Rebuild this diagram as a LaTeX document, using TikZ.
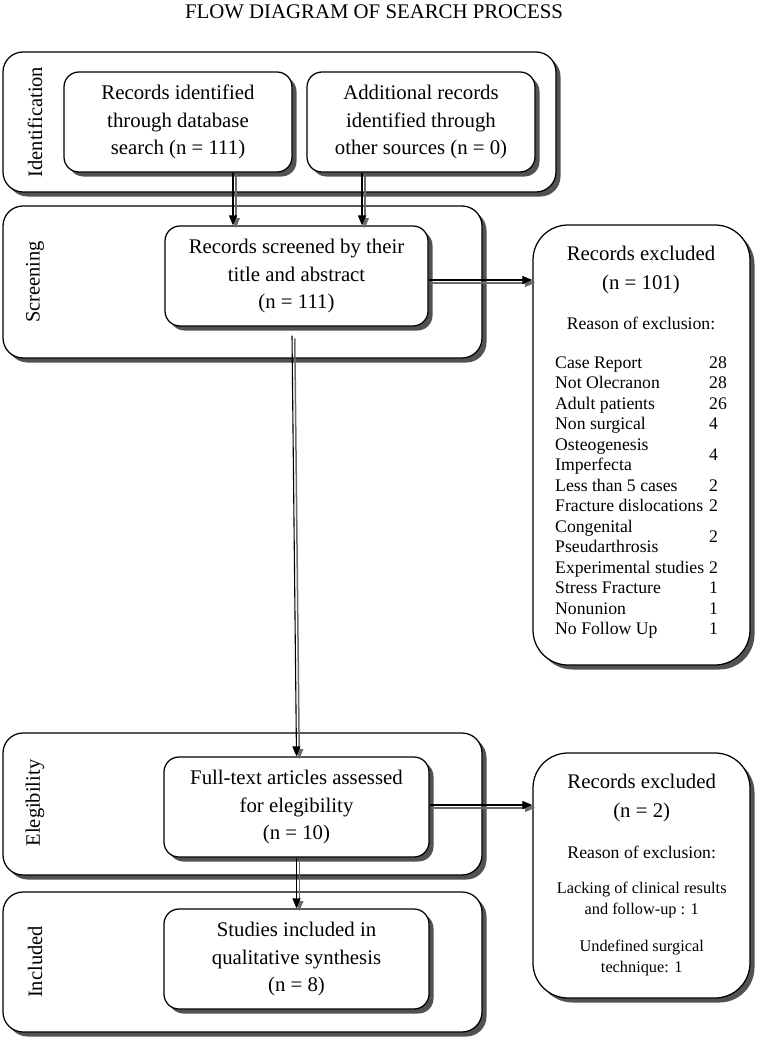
\documentclass[tikz,border=0pt]{standalone}
\usepackage{fontspec}
\setmainfont{Liberation Serif}
\usetikzlibrary{shadows,arrows.meta}
\begin{document}
\begin{tikzpicture}[x=1pt,y=-1pt,
  shd/.style={drop shadow={shadow xshift=4.5pt,shadow yshift=-4.5pt,fill=black!68,opacity=1}},
  lane/.style={draw, line width=1.25pt, rounded corners=20pt, fill=white, shd, inner sep=0pt},
  inbox/.style={draw, line width=1.25pt, rounded corners=15pt, fill=white, shd, inner sep=0pt, minimum height=100pt, big},
  exbox/.style={draw, line width=1.25pt, rounded corners=35pt, fill=white, shd, inner sep=0pt, minimum width=217pt},
  big/.style={font=\fontsize{20.8}{27.5}\selectfont, align=center},
  mid/.style={font=\fontsize{17.7}{20.5}\selectfont, align=center},
  sml/.style={font=\fontsize{16.3}{21}\selectfont, align=center},
  lanelabel/.style={rotate=90, font=\fontsize{20.5}{24}\selectfont},
  arrblk/.style={draw=black, line width=1.1pt, -{Triangle[length=10pt,width=8pt]}},
  arrshd/.style={draw=black!58, line width=1.5pt, -{Triangle[length=10pt,width=8pt]}, transform canvas={shift={(2.8pt,-2.8pt)}}}
]
\useasboundingbox (0,0) rectangle (756,1041);
\fill[white] (0,0) rectangle (756,1041);

\node[font=\fontsize{20.8}{24}\selectfont] (title) at (374,12) {FLOW DIAGRAM OF SEARCH PROCESS};

% lanes
\node[lane, minimum width=553pt, minimum height=140pt] (lid) at (279.5,122) {};
\node[lane, minimum width=479pt, minimum height=152pt] (lsc) at (242.5,282) {};
\node[lane, minimum width=479pt, minimum height=142pt] (lel) at (242.5,804) {};
\node[lane, minimum width=479pt, minimum height=140pt] (lin) at (242.5,962) {};

\node[lanelabel] (tid) at (35,122) {Identification};
\node[lanelabel] (tsc) at (35,282) {Screening};
\node[lanelabel] (tel) at (35,803) {Elegibility};
\node[lanelabel] (tin) at (35,962) {Included};

% inner boxes
\node[inbox, minimum width=228pt] (A) at (178,122) {Records identified\\through database\\search (n = 111)};
\node[inbox, minimum width=228pt] (B) at (421,122) {Additional records\\identified through\\other sources (n = 0)};
\node[inbox, minimum width=263pt] (scr) at (296.5,276) {Records screened by their\\title and abstract\\(n = 111)};
\node[inbox, minimum width=265pt] (ft) at (296.5,807) {Full-text articles assessed\\for elegibility\\(n = 10)};
\node[inbox, minimum width=265pt] (st) at (296.5,959) {Studies included in\\qualitative synthesis\\(n = 8)};

% exclusion boxes
\node[exbox, minimum height=440pt] (ex1) at (641.5,445) {};
\node[exbox, minimum height=245pt] (ex2) at (641.5,875.5) {};

\node[big, font=\fontsize{20.8}{28.5}\selectfont] (ex1h) at (641,270) {Records excluded\\(n = 101)};
\node[mid] (ex1r) at (641,323) {Reason of exclusion:};
\foreach \t [count=\k from 0] in {Case Report,Not Olecranon,Adult patients,Non surgical,Osteogenesis,Imperfecta,Less than 5 cases,Fracture dislocations,Congenital,Pseudarthrosis,Experimental studies,Stress Fracture,Nonunion,No Follow Up}
  \node[mid, anchor=base west, inner sep=0pt] (r\k) at (555,{368+20.5*\k}) {\t};
\foreach \n/\yy [count=\j] in {28/368,28/388.5,26/409,4/429.5,4/460.25,2/491,2/511.5,2/542.25,2/573,1/593.5,1/614,1/634.5}
  \node[mid, anchor=base west, inner sep=0pt] (n\j) at (709,\yy) {\n};

\node[big, font=\fontsize{20.8}{29}\selectfont] (ex2h) at (641.7,798) {Records excluded\\(n = 2)};
\node[mid] (ex2r) at (641.7,852) {Reason of exclusion:};
\node[sml] (ex2a) at (641.7,900) {Lacking of clinical results\\and follow-up : 1};
\node[sml] (ex2b) at (641.7,958) {Undefined surgical\\technique: 1};

% arrows
\coordinate (xa) at (233,0);
\coordinate (xb) at (362,0);
\foreach \s in {arrshd,arrblk}{
  \draw[\s] (xa |- A.south) -- (xa |- scr.north);
  \draw[\s] (xb |- B.south) -- (xb |- scr.north);
  \draw[\s] ([yshift=-4pt]scr.east) -- ([yshift=-4pt]scr.east -| ex1.west);
  \draw[\s] ([xshift=-4.5pt,yshift=-9pt]scr.south) -- (ft.north);
  \draw[\s] (ft.south) -- (st.north);
  \draw[\s] ([yshift=2pt]ft.east) -- ([yshift=2pt]ft.east -| ex2.west);
}
\end{tikzpicture}
\end{document}
